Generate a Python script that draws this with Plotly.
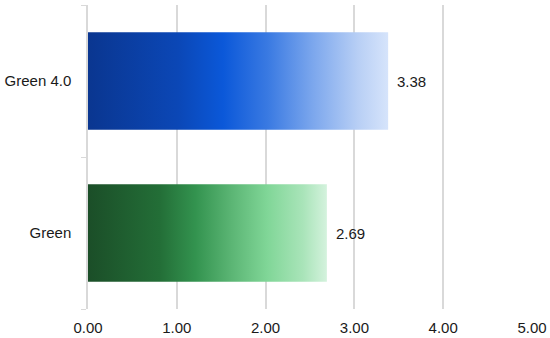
import plotly.graph_objects as go

# ── Data ───────────────────────────────────────────────────────
categories = ["Green", "Green 4.0"]
values = [2.69, 3.38]
x_ticks = [0, 1, 2, 3, 4, 5]

# ── Colours ────────────────────────────────────────────────────
TEXT = "#1a1a1a"
GRID = "#d9d9d9"
GRADIENTS = {
    "Green 4.0": [[0.0, "#0a3690"], [0.3, "#0b47b6"], [0.45, "#0b58d9"],
                  [0.6, "#3a7ae2"], [0.75, "#7ca7ed"], [0.9, "#b8cff5"],
                  [1.0, "#d6e4fb"]],
    "Green": [[0.0, "#1b4e28"], [0.3, "#236e37"], [0.45, "#33934f"],
              [0.6, "#5bb574"], [0.75, "#80d697"], [0.9, "#a9e4b9"],
              [1.0, "#d4f2dd"]],
}
BAR_WIDTH = 0.64

fig = go.Figure()

for i, (cat, val) in enumerate(zip(categories, values)):
    lo, hi = i - BAR_WIDTH / 2, i + BAR_WIDTH / 2
    # bar drawn as a filled shape so it can carry a horizontal gradient
    fig.add_trace(go.Scatter(
        x=[0, val, val, 0, 0],
        y=[lo, lo, hi, hi, lo],
        mode="lines",
        fill="toself",
        fillgradient=dict(type="horizontal", colorscale=GRADIENTS[cat]),
        line=dict(width=0),
        hoverinfo="skip",
        showlegend=False,
    ))
    fig.add_annotation(
        x=val, y=i,
        text=f"{val:.2f}",
        showarrow=False,
        xanchor="left",
        xshift=7,
        font=dict(size=15, color=TEXT),
    )

fig.update_layout(
    width=550,
    height=338,
    plot_bgcolor="white",
    paper_bgcolor="white",
    font=dict(family="Liberation Sans, Arial", size=15, color=TEXT),
    margin=dict(l=88, r=18, t=5, b=29),
    xaxis=dict(
        range=[0, 5],
        tickvals=x_ticks,
        ticktext=[f"{t:.2f}" for t in x_ticks],
        showgrid=True,
        gridcolor=GRID,
        gridwidth=1.5,
        zeroline=False,
        showline=False,
        ticks="",
        ticklabelstandoff=8,
        automargin=False,
    ),
    yaxis=dict(
        range=[-0.5, 1.5],
        tickvals=list(range(len(categories))),
        ticktext=categories,
        showgrid=False,
        zeroline=False,
        showline=True,
        linecolor=GRID,
        linewidth=1.5,
        ticks="",
        ticklabelstandoff=12,
        automargin=False,
        minor=dict(
            tickvals=[-0.5, 0.5, 1.5],
            ticks="outside",
            ticklen=5,
            tickcolor=GRID,
            showgrid=False,
        ),
    ),
)

# drop the page's default body margin so the 550x338 figure sits at 0,0
fig.write_html(
    "out.html",
    config={"displayModeBar": False},
    post_script="document.body.style.margin='0';",
)
